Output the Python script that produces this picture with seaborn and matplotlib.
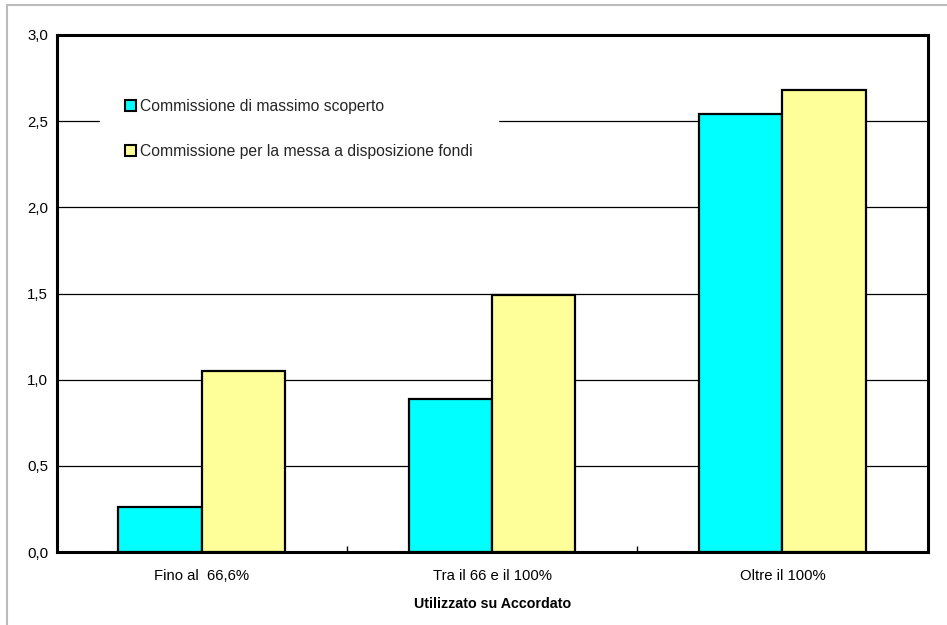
import matplotlib
matplotlib.use("Agg")
import matplotlib.pyplot as plt
from matplotlib.lines import Line2D
from matplotlib.ticker import FuncFormatter, FixedLocator
import numpy as np
import pandas as pd
import seaborn as sns

# data
categories = ["Fino al  66,6%", "Tra il 66 e il 100%", "Oltre il 100%"]
series = ["Commissione di massimo scoperto",
          "Commissione per la messa a disposizione fondi"]
cms = [0.26, 0.89, 2.54]
cdf = [1.05, 1.49, 2.68]
colors = ["#00FFFF", "#FFFF99"]

df = pd.DataFrame({
    "categoria": categories * 2,
    "serie": [series[0]] * 3 + [series[1]] * 3,
    "valore": cms + cdf,
})

sns.set_theme(style="white")
plt.rcParams["font.family"] = ["Liberation Sans", "DejaVu Sans"]

fig = plt.figure(figsize=(9.47, 6.25), dpi=100)
ax = fig.add_axes([0.0597, 0.1168, 0.9796 - 0.0597, 0.944 - 0.1168])

sns.barplot(data=df, x="categoria", y="valore", hue="serie",
            palette=colors, width=0.574, gap=0, ax=ax,
            edgecolor="black", linewidth=1.6, saturation=1, zorder=3)

ax.set_ylim(0, 3.0)
ax.set_xlim(-0.5, 2.5)
ax.set_yticks(np.arange(0, 3.01, 0.5))
ax.yaxis.set_major_formatter(FuncFormatter(lambda v, p: f"{v:.1f}".replace(".", ",")))
ax.yaxis.grid(True, color="black", linewidth=0.9, zorder=0)
ax.set_axisbelow(True)

for s in ax.spines.values():
    s.set_color("black")
    s.set_linewidth(2.2)

ax.tick_params(axis="y", length=0, pad=6, labelsize=10.8, colors="black")
ax.tick_params(axis="x", which="major", length=0, pad=12, labelsize=10.7, colors="black")
ax.xaxis.set_minor_locator(FixedLocator([0.5, 1.5]))
ax.tick_params(axis="x", which="minor", direction="in", length=4, width=1, color="black", bottom=True)

ax.set_ylabel("")
ax.set_xlabel("Utilizzato su Accordato", fontsize=10.3, fontweight="bold", labelpad=10, color="black")

leg = ax.legend(loc="upper left", bbox_to_anchor=(0.05, 0.925), frameon=True,
                facecolor="white", edgecolor="white", framealpha=1, fancybox=False,
                fontsize=11.3, handlelength=0.7, handleheight=0.7, handletextpad=0.25,
                labelspacing=1.9, borderpad=1.6, borderaxespad=0)
for h in leg.legend_handles:
    h.set_edgecolor("black")
    h.set_linewidth(1.5)
leg.set_zorder(5)

# outer border (top and left only)
fig.add_artist(Line2D([7 / 947, 1], [1 - 5 / 625, 1 - 5 / 625], color="#BBBBBB", linewidth=1.5))
fig.add_artist(Line2D([7 / 947, 7 / 947], [0, 1 - 5 / 625], color="#BBBBBB", linewidth=1.5))

fig.savefig("out.png", dpi=100, facecolor="white")
